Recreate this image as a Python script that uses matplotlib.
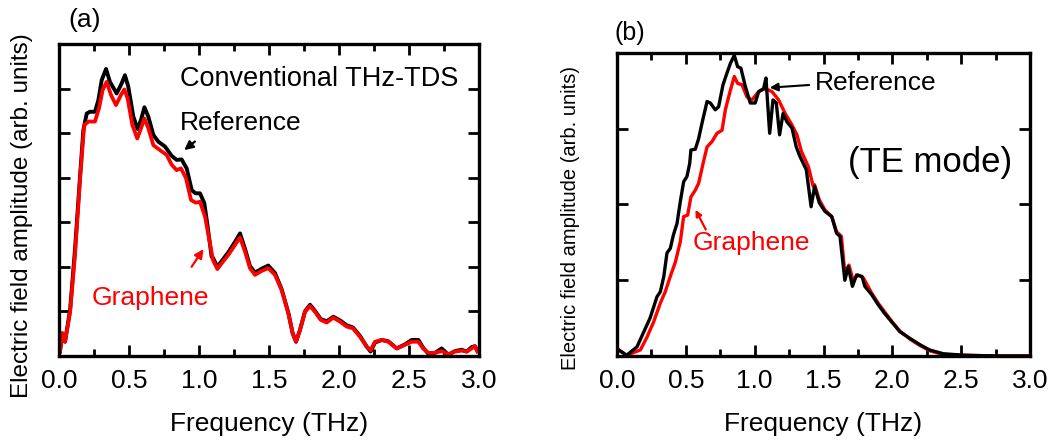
import matplotlib
matplotlib.use('Agg')
import matplotlib.pyplot as plt
from matplotlib.ticker import MultipleLocator, NullFormatter

plt.rcParams['font.family'] = ['Liberation Sans', 'DejaVu Sans']

# panel (a): conventional THz-TDS spectra
freq_a_ref = [0.007, 0.024, 0.043, 0.079, 0.114, 0.15, 0.174, 0.198, 0.221, 0.257,
              0.281, 0.305, 0.336, 0.364, 0.412, 0.448, 0.471, 0.495, 0.531, 0.562,
              0.586, 0.61, 0.638, 0.674, 0.709, 0.757, 0.805, 0.84, 0.876, 0.912,
              0.948, 0.976, 1.007, 1.038, 1.062, 1.09, 1.10, 1.131, 1.162, 1.21,
              1.257, 1.293, 1.329, 1.364, 1.40, 1.448, 1.495, 1.543, 1.59, 1.638,
              1.669, 1.693, 1.721, 1.757, 1.793, 1.829, 1.869, 1.912, 1.96, 2.007,
              2.055, 2.10, 2.15, 2.198, 2.226, 2.257, 2.305, 2.352, 2.412, 2.471,
              2.519, 2.567, 2.60, 2.638, 2.686, 2.733, 2.781, 2.829, 2.876, 2.912,
              2.948, 2.971, 2.988]
amp_a_ref = [0.10, 0.51, 0.32, 1.03, 2.38, 4.02, 5.07, 5.44, 5.48, 5.48,
             5.74, 6.19, 6.44, 6.15, 5.89, 6.12, 6.30, 6.04, 5.37, 5.09,
             5.30, 5.58, 5.37, 4.96, 4.81, 4.70, 4.49, 4.40, 4.41, 4.21,
             3.72, 3.65, 3.65, 3.43, 2.90, 2.23, 2.20, 2.00, 2.13, 2.33,
             2.56, 2.75, 2.40, 2.02, 1.87, 1.96, 2.03, 1.86, 1.50, 0.97,
             0.51, 0.32, 0.58, 1.00, 1.15, 1.01, 0.83, 0.78, 0.88, 0.80,
             0.69, 0.64, 0.45, 0.21, 0.10, 0.30, 0.36, 0.33, 0.17, 0.26,
             0.36, 0.36, 0.19, 0.05, 0.07, 0.17, 0.03, 0.11, 0.14, 0.10,
             0.20, 0.22, 0.12]

freq_a_gr = [0.007, 0.024, 0.043, 0.079, 0.114, 0.15, 0.18, 0.21, 0.257, 0.286,
             0.312, 0.34, 0.371, 0.407, 0.443, 0.467, 0.49, 0.524, 0.559, 0.586,
             0.61, 0.638, 0.674, 0.721, 0.769, 0.805, 0.84, 0.871, 0.907, 0.943,
             0.976, 1.007, 1.043, 1.074, 1.10, 1.131, 1.162, 1.21, 1.257, 1.293,
             1.329, 1.364, 1.40, 1.448, 1.495, 1.543, 1.59, 1.638, 1.669, 1.693,
             1.721, 1.757, 1.793, 1.829, 1.869, 1.912, 1.96, 2.007, 2.055, 2.10,
             2.15, 2.198, 2.226, 2.257, 2.305, 2.352, 2.412, 2.471, 2.519, 2.567,
             2.60, 2.638, 2.686, 2.733, 2.781, 2.829, 2.876, 2.912, 2.948, 2.971,
             2.988]
amp_a_gr = [0.10, 0.51, 0.32, 0.98, 2.25, 3.95, 5.18, 5.26, 5.26, 5.56,
            5.97, 6.15, 5.86, 5.63, 5.86, 5.98, 5.78, 5.18, 4.88, 5.11,
            5.33, 5.11, 4.73, 4.62, 4.51, 4.29, 4.17, 4.21, 3.99, 3.50,
            3.44, 3.46, 3.13, 2.60, 2.15, 1.95, 2.08, 2.27, 2.49, 2.66,
            2.34, 1.97, 1.82, 1.91, 1.97, 1.82, 1.48, 0.96, 0.51, 0.32,
            0.58, 0.99, 1.12, 0.99, 0.81, 0.75, 0.86, 0.77, 0.66, 0.62,
            0.43, 0.21, 0.13, 0.32, 0.36, 0.32, 0.17, 0.25, 0.32, 0.32,
            0.17, 0.07, 0.07, 0.11, 0.04, 0.10, 0.12, 0.10, 0.17, 0.22,
            0.10]

# panel (b): TE mode spectra
freq_b_ref = [0.0, 0.012, 0.07, 0.145, 0.19, 0.24, 0.29, 0.315, 0.34, 0.363,
              0.387, 0.41, 0.436, 0.46, 0.484, 0.508, 0.528, 0.537, 0.569, 0.593,
              0.617, 0.654, 0.678, 0.714, 0.738, 0.77, 0.794, 0.823, 0.852, 0.876,
              0.90, 0.932, 0.968, 1.004, 1.029, 1.065, 1.082, 1.109, 1.133, 1.157,
              1.181, 1.206, 1.235, 1.271, 1.302, 1.33, 1.375, 1.41, 1.435, 1.47,
              1.51, 1.56, 1.595, 1.62, 1.655, 1.68, 1.71, 1.74, 1.78, 1.80,
              1.85, 1.90, 1.945, 1.995, 2.055, 2.13, 2.20, 2.27, 2.37, 2.52,
              2.76, 3.0]
amp_b_ref = [0.10, 0.08, 0.01, 0.12, 0.30, 0.50, 0.78, 0.85, 1.05, 1.36,
             1.42, 1.60, 1.75, 2.04, 2.30, 2.37, 2.54, 2.72, 2.73, 2.87,
             3.07, 3.36, 3.34, 3.25, 3.29, 3.58, 3.71, 3.86, 3.97, 3.82,
             3.80, 3.56, 3.34, 3.34, 3.49, 3.53, 3.67, 2.94, 3.38, 3.34,
             2.92, 3.20, 3.09, 3.01, 2.76, 2.63, 2.46, 1.97, 2.24, 2.02,
             1.91, 1.84, 1.62, 1.58, 1.00, 1.18, 0.92, 1.07, 1.05, 0.92,
             0.81, 0.67, 0.56, 0.45, 0.32, 0.23, 0.15, 0.08, 0.03, 0.01,
             0.0, 0.0]

freq_b_gr = [0.0, 0.012, 0.07, 0.17, 0.218, 0.266, 0.315, 0.351, 0.387, 0.424,
             0.46, 0.484, 0.513, 0.537, 0.569, 0.593, 0.625, 0.654, 0.69, 0.726,
             0.763, 0.787, 0.818, 0.852, 0.876, 0.908, 0.944, 0.98, 1.029, 1.077,
             1.126, 1.174, 1.222, 1.271, 1.307, 1.34, 1.39, 1.425, 1.435, 1.47,
             1.51, 1.56, 1.595, 1.63, 1.655, 1.685, 1.715, 1.75, 1.79, 1.85,
             1.90, 1.945, 1.995, 2.055, 2.13, 2.20, 2.27, 2.37, 2.52, 2.76,
             3.0]
amp_b_gr = [0.10, 0.08, 0.01, 0.08, 0.25, 0.45, 0.70, 0.85, 1.05, 1.24,
            1.51, 1.84, 1.86, 2.10, 2.19, 2.28, 2.54, 2.76, 2.83, 2.94,
            2.98, 3.25, 3.47, 3.69, 3.60, 3.58, 3.42, 3.38, 3.49, 3.53,
            3.49, 3.38, 3.20, 3.05, 2.92, 2.70, 2.50, 2.24, 2.26, 2.06,
            1.93, 1.84, 1.64, 1.58, 1.09, 1.20, 1.00, 1.07, 1.03, 0.83,
            0.69, 0.58, 0.46, 0.33, 0.22, 0.14, 0.07, 0.02, 0.01, 0.0,
            0.0]

W, H = 1055, 444
fig = plt.figure(figsize=(W / 100, H / 100), dpi=100)


def style_axes(ax, ymax, ylabel_size, label_x, label_y):
    ax.set_xlim(0, 3.0)
    ax.set_ylim(0, ymax)
    ax.xaxis.set_major_locator(MultipleLocator(0.5))
    ax.xaxis.set_minor_locator(MultipleLocator(0.25))
    ax.yaxis.set_major_locator(MultipleLocator(1))
    ax.yaxis.set_major_formatter(NullFormatter())
    ax.xaxis.set_major_formatter(plt.FuncFormatter(lambda v, p: f"{v:.1f}"))
    ax.tick_params(which='both', direction='in', top=True, right=True, width=2)
    ax.tick_params(which='major', length=8, labelsize=19, pad=9)
    ax.tick_params(which='minor', length=5)
    for s in ax.spines.values():
        s.set_linewidth(2.4)
    ax.set_xlabel('Frequency (THz)', fontsize=19, labelpad=14)
    ax.set_ylabel('Electric field amplitude (arb. units)', fontsize=ylabel_size)
    ax.yaxis.set_label_coords(label_x, label_y)


# panel (a)
ax1 = fig.add_axes([59 / W, 88 / H, 420 / W, 312 / H])
ax1.plot(freq_a_ref, amp_a_ref, color='black', lw=2.8, solid_joinstyle='round')
ax1.plot(freq_a_gr, amp_a_gr, color='red', lw=2.7, solid_joinstyle='round')
style_axes(ax1, 7, 17.5, -0.062, 0.449)
ax1.text(0.864, 6.22, 'Conventional THz-TDS', fontsize=19.5, va='center')
ax1.text(0.864, 5.23, 'Reference', fontsize=19, va='center')
ax1.annotate('', xy=(0.879, 4.58), xytext=(0.986, 4.85),
             arrowprops=dict(arrowstyle='-|>', color='black', lw=1.6,
                             mutation_scale=13))
ax1.text(0.236, 1.30, 'Graphene', fontsize=19, va='center', color='red')
ax1.annotate('', xy=(1.043, 2.45), xytext=(0.936, 1.95),
             arrowprops=dict(arrowstyle='-|>', color='red', lw=1.6,
                             mutation_scale=13))
fig.text(68 / W, 1 - 20 / H, '(a)', fontsize=19, va='center')

# panel (b)
ax2 = fig.add_axes([617 / W, 88 / H, 413 / W, 303 / H])
ax2.plot(freq_b_gr, amp_b_gr, color='red', lw=2.4)
ax2.plot(freq_b_ref, amp_b_ref, color='black', lw=2.4)
style_axes(ax2, 4, 14.5, -0.090, 0.455)
ax2.text(1.438, 3.60, 'Reference', fontsize=19, va='center')
ax2.annotate('', xy=(1.089, 3.54), xytext=(1.416, 3.58),
             arrowprops=dict(arrowstyle='-|>', color='black', lw=1.5,
                             mutation_scale=12))
ax2.text(1.678, 2.56, '(TE mode)', fontsize=25, va='center')
ax2.text(0.552, 1.49, 'Graphene', fontsize=19, va='center', color='red')
ax2.annotate('', xy=(0.570, 1.93), xytext=(0.645, 1.67),
             arrowprops=dict(arrowstyle='-|>', color='red', lw=1.6,
                             mutation_scale=9, shrinkA=0, shrinkB=0))
fig.text(615 / W, 1 - 33 / H, '(b)', fontsize=18, va='center')

fig.savefig('out.png', dpi=100)
